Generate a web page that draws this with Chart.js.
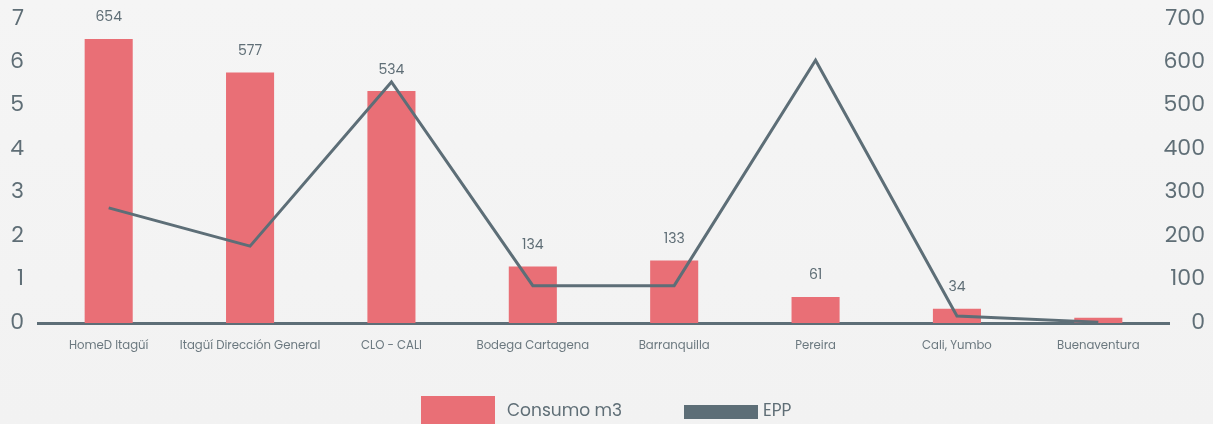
<!DOCTYPE html>
<html>
<head>
<meta charset="utf-8">
<script src="https://cdn.jsdelivr.net/npm/chart.js@4"></script>
<style>
    html, body {
        margin: 0;
        padding: 0;
        background: #f3f3f3;
    }
    #wrap {
        width: 1213px;
        height: 424px;
        background: linear-gradient(180deg, #f5f5f5 0%, #f2f2f2 100%);
    }
</style>
</head>
<body>
<div id="wrap">
    <canvas id="myChart" width="1213" height="424"></canvas>
</div>
<script>
const categories = ["HomeD Itagüí", "Itagüí Dirección General", "CLO - CALI", "Bodega Cartagena", "Barranquilla", "Pereira", "Cali, Yumbo", "Buenaventura"];
const consumoM3 = [654, 577, 534, 130, 144, 60, 33, 12];
const consumoLabels = ["654", "577", "534", "134", "133", "61", "34", ""];
const epp = [2.65, 1.77, 5.55, 0.86, 0.86, 6.05, 0.16, 0.02];

const barColor = "#e96f76";
const lineColor = "#5d6e77";
const textColor = "#5f6e76";
const fontFamily = "Poppins, 'Open Sans', sans-serif";

// numbers above the bars
const barLabelsPlugin = {
    id: "barLabels",
    afterDatasetsDraw(chart) {
        const c = chart.ctx;
        const meta = chart.getDatasetMeta(1);
        c.save();
        c.fillStyle = textColor;
        c.font = "14px " + fontFamily;
        c.textAlign = "center";
        c.textBaseline = "middle";
        meta.data.forEach((bar, i) => {
            if (consumoLabels[i]) c.fillText(consumoLabels[i], bar.x, bar.y - 21);
        });
        c.restore();
    },
};

// legend drawn by hand: a tall box for the bars, a flat one for the line
const legendPlugin = {
    id: "customLegend",
    afterDraw(chart) {
        const c = chart.ctx;
        c.save();
        c.font = "17px " + fontFamily;
        c.textBaseline = "middle";
        c.fillStyle = barColor;
        c.fillRect(421, 396, 74, 32);
        c.fillStyle = textColor;
        c.fillText(chart.data.datasets[1].label, 507, 412);
        c.fillStyle = lineColor;
        c.fillRect(684, 405, 74, 14);
        c.fillStyle = textColor;
        c.fillText(chart.data.datasets[0].label, 763, 412);
        c.restore();
    },
};

const ctx = document.getElementById("myChart").getContext("2d");
const chart = new Chart(ctx, {
    type: "bar",
    data: {
        labels: categories,
        datasets: [
            {
                type: "line",
                label: "EPP",
                data: epp,
                yAxisID: "y",
                borderColor: lineColor,
                borderWidth: 3,
                pointRadius: 0,
                tension: 0,
                fill: false,
                order: 0,
            },
            {
                label: "Consumo m3",
                data: consumoM3,
                yAxisID: "y1",
                backgroundColor: barColor,
                barPercentage: 0.34,
                categoryPercentage: 1,
                order: 1,
            },
        ],
    },
    options: {
        responsive: false,
        animation: false,
        devicePixelRatio: 1,
        layout: {
            padding: { top: 19, right: 8, bottom: 61, left: 0 },
        },
        plugins: {
            legend: { display: false },
            tooltip: { enabled: false },
        },
        scales: {
            x: {
                grid: { display: false, drawTicks: false },
                border: { display: true, color: lineColor, width: 3 },
                ticks: {
                    color: "#6b787f",
                    font: { family: fontFamily, size: 11.7 },
                    padding: 16,
                    maxRotation: 0,
                    autoSkip: false,
                },
                afterFit(scale) {
                    scale.height = 40;
                },
            },
            y: {
                position: "left",
                min: 0,
                max: 7,
                grid: { display: false, drawTicks: false },
                border: { display: false },
                ticks: {
                    stepSize: 1,
                    color: textColor,
                    font: { family: fontFamily, size: 22 },
                    padding: 14,
                },
                afterFit(scale) {
                    scale.width = 38;
                    scale.paddingTop = 0;
                    scale.paddingBottom = 0;
                },
            },
            y1: {
                position: "right",
                min: 0,
                max: 700,
                grid: { display: false, drawTicks: false },
                border: { display: false },
                ticks: {
                    stepSize: 100,
                    color: textColor,
                    font: { family: fontFamily, size: 22 },
                    mirror: true,
                    padding: 36,
                },
                afterFit(scale) {
                    scale.width = 36;
                    scale.paddingTop = 0;
                    scale.paddingBottom = 0;
                },
            },
        },
    },
    plugins: [barLabelsPlugin, legendPlugin],
});
</script>
</body>
</html>
